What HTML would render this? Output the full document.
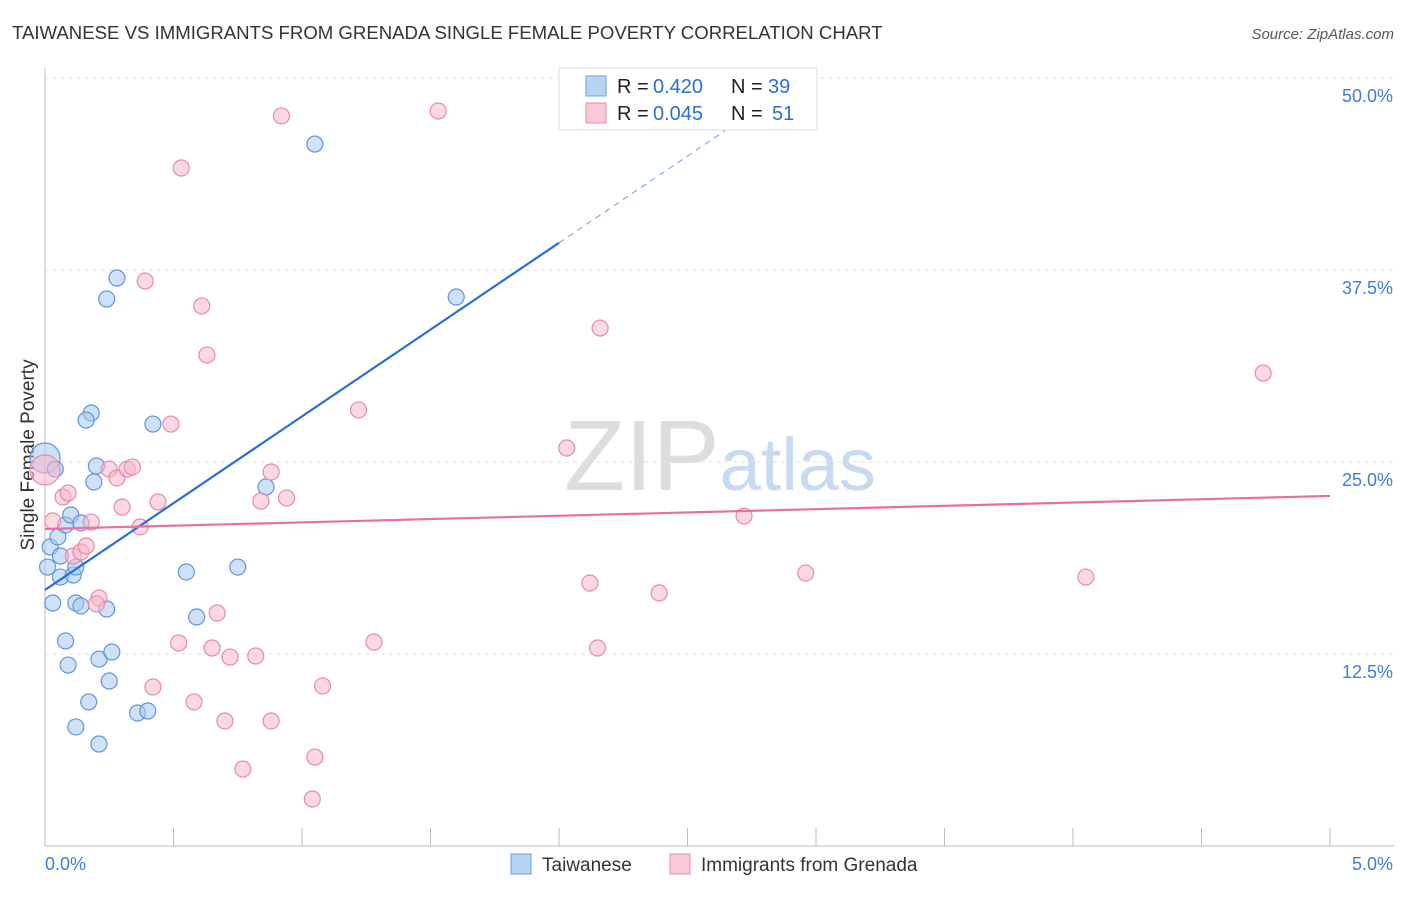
<!DOCTYPE html>
<html><head><meta charset="utf-8"><style>
body{margin:0;background:#fff;font-family:"Liberation Sans",sans-serif;}
svg text{font-family:"Liberation Sans",sans-serif;}
</style></head><body>
<svg id="chart" width="1406" height="892">
<text x="12" y="39" font-size="18.6" fill="#333">TAIWANESE VS IMMIGRANTS FROM GRENADA SINGLE FEMALE POVERTY CORRELATION CHART</text>
<text x="1394" y="39" font-size="15" fill="#555" font-style="italic" text-anchor="end">Source: ZipAtlas.com</text>
<text x="34" y="455" font-size="19" fill="#333" transform="rotate(-90 34 455)" text-anchor="middle">Single Female Poverty</text>
<g id="grid"></g>
<text x="720" y="490" font-size="100" fill="#ddd" text-anchor="middle" font-family="Liberation Serif">ZIP<tspan fill="#c8daf0" font-family="Liberation Sans" font-size="74">atlas</tspan></text>
<g id="marks"></g>
<g id="legend">
<rect x="559" y="68" width="258" height="62" fill="#fff" stroke="#ddd"/>
<rect x="586" y="76" width="20" height="20" fill="#b8d4f5" stroke="#6a9fe0"/>
<rect x="586" y="103" width="20" height="20" fill="#f9c9d8" stroke="#e88aa8"/>
<text x="617" y="93" font-size="20" fill="#222">R =</text>
<text x="653" y="93" font-size="20" fill="#2a6fd6">0.420</text>
<text x="731" y="93" font-size="20" fill="#222">N =</text>
<text x="768" y="93" font-size="20" fill="#2a6fd6">39</text>
<text x="617" y="120" font-size="20" fill="#222">R =</text>
<text x="653" y="120" font-size="20" fill="#2a6fd6">0.045</text>
<text x="731" y="120" font-size="20" fill="#222">N =</text>
<text x="772" y="120" font-size="20" fill="#2a6fd6">51</text>
</g>
<g>
<rect x="511" y="854" width="20" height="20" fill="#b8d4f5" stroke="#6a9fe0"/>
<text x="542" y="871" font-size="19" fill="#333">Taiwanese</text>
<rect x="670" y="854" width="20" height="20" fill="#f9c9d8" stroke="#e88aa8"/>
<text x="701" y="871" font-size="19" fill="#333">Immigrants from Grenada</text>
</g>
</svg>
<script>
const xTicks=[0,0.5,1,1.5,2,2.5,3,3.5,4,4.5,5];
const yTicks=[12.5,25,37.5,50];
const yTickLabels=["12.5%","25.0%","37.5%","50.0%"];
const blueX=[0.00,0.04,0.02,0.01,0.06,0.05,0.08,0.10,0.14,0.06,0.11,0.12,0.03,0.12,0.14,0.24,0.08,0.09,0.21,0.26,0.25,0.17,0.12,0.21,0.36,0.40,0.18,0.16,0.20,0.19,0.42,0.24,0.28,1.05,1.60,0.86,0.55,0.75,0.59];
const blueY=[25.26,24.54,19.47,18.16,18.88,20.12,20.90,21.55,21.03,17.51,17.64,18.16,15.82,15.82,15.63,15.43,13.35,11.78,12.17,12.63,10.74,9.38,7.75,6.64,8.66,8.79,28.19,27.73,24.74,23.70,27.47,35.61,36.98,45.70,35.74,23.37,17.84,18.16,14.91];
const pinkX=[0.00,0.03,0.07,0.09,0.18,0.11,0.14,0.16,0.21,0.20,0.25,0.28,0.32,0.34,0.30,0.37,0.44,0.49,0.39,0.53,0.61,0.63,0.67,0.52,0.65,0.72,0.42,0.58,0.70,0.82,0.77,0.88,0.84,0.94,0.88,1.05,1.04,1.08,1.22,1.28,0.92,1.53,2.03,2.16,2.12,2.15,2.39,2.72,2.96,4.05,4.74];
const pinkY=[24.48,21.16,22.72,22.98,21.09,18.88,19.14,19.53,16.15,15.76,24.54,23.96,24.54,24.67,22.07,20.77,22.40,27.47,36.78,44.14,35.16,31.97,15.17,13.22,12.89,12.30,10.35,9.38,8.14,12.37,5.01,24.35,22.46,22.66,8.14,5.79,3.06,10.42,28.39,13.28,47.53,47.85,25.91,33.72,17.12,12.89,16.47,21.48,17.77,17.51,30.79];
const blueTrend=[16.67,11.3];
const pinkTrend=[20.64,0.43];
const X=v=>45+v*257, Y=v=>846-v*15.36;
const NS="http://www.w3.org/2000/svg";
function mk(tag,attrs,parent){const e=document.createElementNS(NS,tag);for(const k in attrs)e.setAttribute(k,attrs[k]);parent.appendChild(e);return e;}
const grid=document.getElementById('grid'),marks=document.getElementById('marks');
yTicks.forEach((t,i)=>{
 const l=mk('line',{x1:45,x2:1394,y1:Y(t),y2:Y(t),stroke:'#e2e2e2','stroke-dasharray':'4,4'},grid);
 
 
 const tx=mk('text',{x:1393,y:Y(t)+24,'font-size':18,fill:'#3b7ddd','text-anchor':'end'},grid);
 tx.textContent=yTickLabels[i];
 
 
});
const ax=mk('line',{x1:45,x2:1394,y1:846,y2:846,stroke:'#bbb'},grid);


const ay=mk('line',{x1:45,x2:45,y1:68,y2:846,stroke:'#bbb'},grid);


xTicks.forEach(t=>{
 const l=mk('line',{x1:X(t),x2:X(t),y1:828,y2:846,stroke:'#bbb'},grid);
 
 
});
[[0,'0.0%','start',45],[5,'5.0%','end',1393]].forEach(a=>{
 const tx=mk('text',{x:a[3],y:870,'font-size':18,fill:'#3b7ddd','text-anchor':a[2]},grid);
 tx.textContent=a[1];
 
 
});
function pts(xs,ys,fill,stroke,name){
 xs.forEach((x,i)=>{
  const c=mk('circle',{cx:X(x),cy:Y(ys[i]),r:i===0?15:8,fill:fill,'fill-opacity':0.55,stroke:stroke,'stroke-width':1.2},marks);
  
  
 });
}
pts(blueX,blueY,'#a8c8f0','#5f95dc','taiwanese-point');
pts(pinkX,pinkY,'#f7b8cc','#e88aa8','grenada-point');
const bEnd=2.0, bTop=(50-blueTrend[0])/blueTrend[1];
const b1=mk('line',{x1:X(0),y1:Y(blueTrend[0]),x2:X(bEnd),y2:Y(blueTrend[0]+blueTrend[1]*bEnd),stroke:'#2a6fd6','stroke-width':2.2},marks);


const b2=mk('line',{x1:X(bEnd),y1:Y(blueTrend[0]+blueTrend[1]*bEnd),x2:X(bTop),y2:Y(50),stroke:'#6a9fe0','stroke-width':1,'stroke-dasharray':'6,5'},marks);


const p1=mk('line',{x1:X(0),y1:Y(pinkTrend[0]),x2:X(5),y2:Y(pinkTrend[0]+pinkTrend[1]*5),stroke:'#e8709a','stroke-width':2.2},marks);


document.getElementById('chart').appendChild(document.getElementById('legend'));
</script>
</body></html>
